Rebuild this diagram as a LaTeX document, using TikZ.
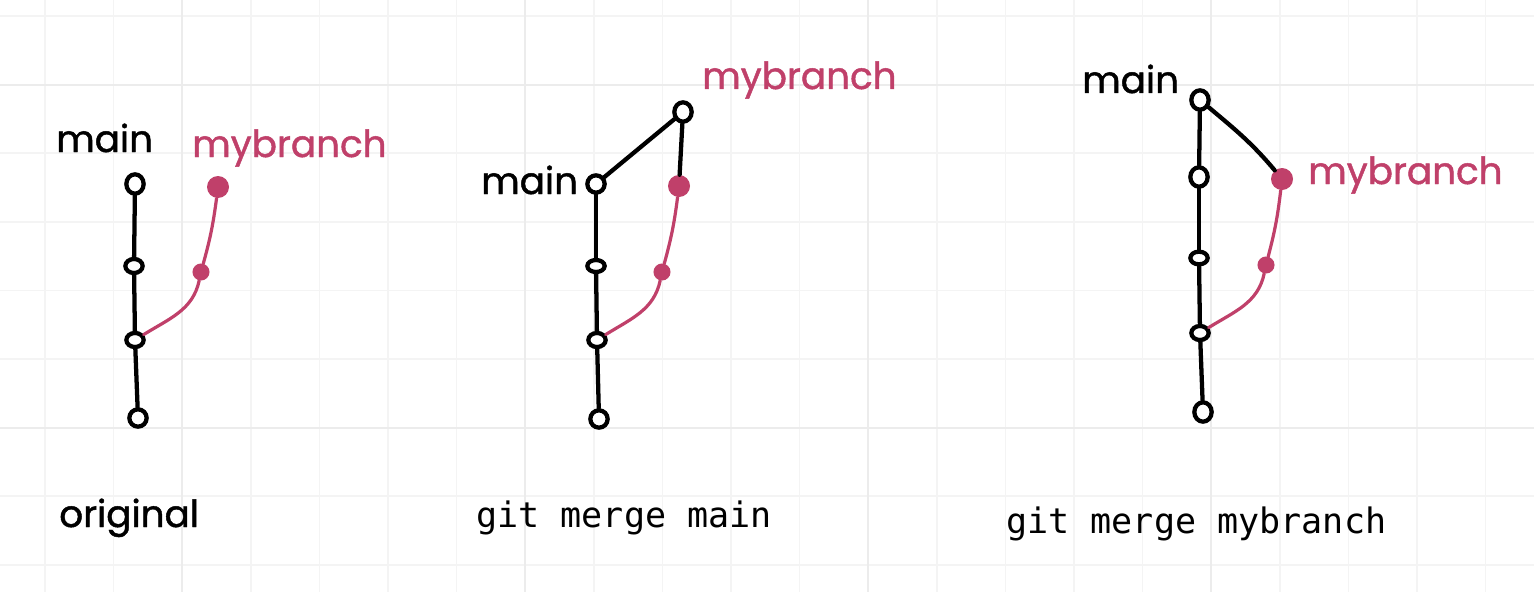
\documentclass[tikz,border=0pt]{standalone}
\usepackage{fontspec}
\setmainfont{Poppins}[FakeBold=1.2]
\setmonofont{DejaVu Sans Mono}
\usetikzlibrary{shapes.geometric}
\definecolor{pk}{HTML}{C0406A}
\definecolor{gminor}{HTML}{F4F4F4}
\definecolor{gmajor}{HTML}{ECECEC}
\begin{document}
\begin{tikzpicture}[x=0.75pt,y=-0.75pt,
  commit/.style={ellipse,draw=black,line width=3.2pt,fill=white,inner sep=0pt,minimum width=13pt,minimum height=13pt},
  flat/.style={commit,minimum height=10.5pt},
  tall/.style={commit,minimum height=14.5pt},
  pkbig/.style={circle,fill=pk,inner sep=0pt,minimum size=16.5pt},
  pksmall/.style={circle,fill=pk,inner sep=0pt,minimum size=12.8pt},
  link/.style={draw=black,line width=3.2pt,line cap=round},
  pklink/.style={draw=pk,line width=2.4pt,line cap=round},
  hand/.style={font=\fontsize{28}{34}\selectfont,inner sep=0pt,anchor=base west},
  mono/.style={font=\ttfamily\fontsize{26.3}{30}\selectfont,inner sep=0pt,anchor=base west},
  gridminor/.style={draw=gminor,line width=1.1pt},
  gridmajor/.style={draw=gmajor,line width=1.6pt}]
\useasboundingbox (0,0) rectangle (1534,592);
\fill[white] (0,0) rectangle (1534,592);
% grid
\foreach \i in {0,...,21} \draw[gridminor] ({45+68.6*\i},0) -- ({45+68.6*\i},592);
\foreach \j in {0,...,8} \draw[gridminor] (0,{16+68.6*\j}) -- (1534,{16+68.6*\j});
\foreach \i in {2,7,12,17} \draw[gridmajor] ({45+68.6*\i},0) -- ({45+68.6*\i},592);
\foreach \j in {1,6} \draw[gridmajor] (0,{16+68.6*\j}) -- (1534,{16+68.6*\j});

% ---------- original ----------
\node[hand] (mainA) at (56,152) {main};
\node[hand,text=pk] (brA) at (192,157) {mybranch};
\node[tall] (a1) at (135,184) {};
\node[flat] (a2) at (134,266) {};
\node[flat] (a3) at (135,340) {};
\node[commit] (a4) at (138,418) {};
\node[pkbig] (p1) at (218,187) {};
\node[pksmall] (p2) at (201,272) {};
\draw[link] (a1) -- (a2);
\draw[link] (a2) -- (a3);
\draw[link] (a3) -- (a4);
\draw[pklink] (a3) to[out=32,in=-102] (p2);
\draw[pklink] (p2) to[bend right=4] (p1);
\node[hand] (capA) at (59,527) {original};

% ---------- git merge main ----------
\node[hand] (mainB) at (481,194) {main};
\node[hand,text=pk] (brB) at (702,89) {mybranch};
\node[tall] (bm) at (683,112) {};
\node[commit] (b1) at (596,184) {};
\node[flat,minimum height=9pt] (b2) at (596,266) {};
\node[flat] (b3) at (597,340) {};
\node[commit] (b4) at (599,419) {};
\node[pkbig] (q1) at (679,186) {};
\node[pksmall] (q2) at (662,272) {};
\draw[link] (b1) -- (bm);
\draw[link] (bm) -- (q1);
\draw[link] (b1) -- (b2);
\draw[link] (b2) -- (b3);
\draw[link] (b3) -- (b4);
\draw[pklink] (b3) to[out=32,in=-102] (q2);
\draw[pklink] (q2) to[bend right=4] (q1);
\node[mono] (capB) at (476,527) {git merge main};

% ---------- git merge mybranch ----------
\node[hand] (mainC) at (1082,93) {main};
\node[hand,text=pk] (brC) at (1308,184) {mybranch};
\node[tall] (c0) at (1200,100) {};
\node[tall] (c1) at (1199,177) {};
\node[flat,minimum height=9.5pt] (c2) at (1199,258) {};
\node[flat] (c3) at (1200,333) {};
\node[tall] (c4) at (1203,412) {};
\node[pkbig] (r1) at (1282,179) {};
\node[pksmall] (r2) at (1266,265) {};
\draw[link] (c0) -- (c1);
\draw[link] (c1) -- (c2);
\draw[link] (c2) -- (c3);
\draw[link] (c3) -- (c4);
\draw[link] (c0) to[out=-40,in=130] (r1);
\draw[pklink] (c3) to[out=32,in=-102] (r2);
\draw[pklink] (r2) to[bend right=4] (r1);
\node[mono] (capC) at (1006,533) {git merge mybranch};
\end{tikzpicture}
\end{document}
